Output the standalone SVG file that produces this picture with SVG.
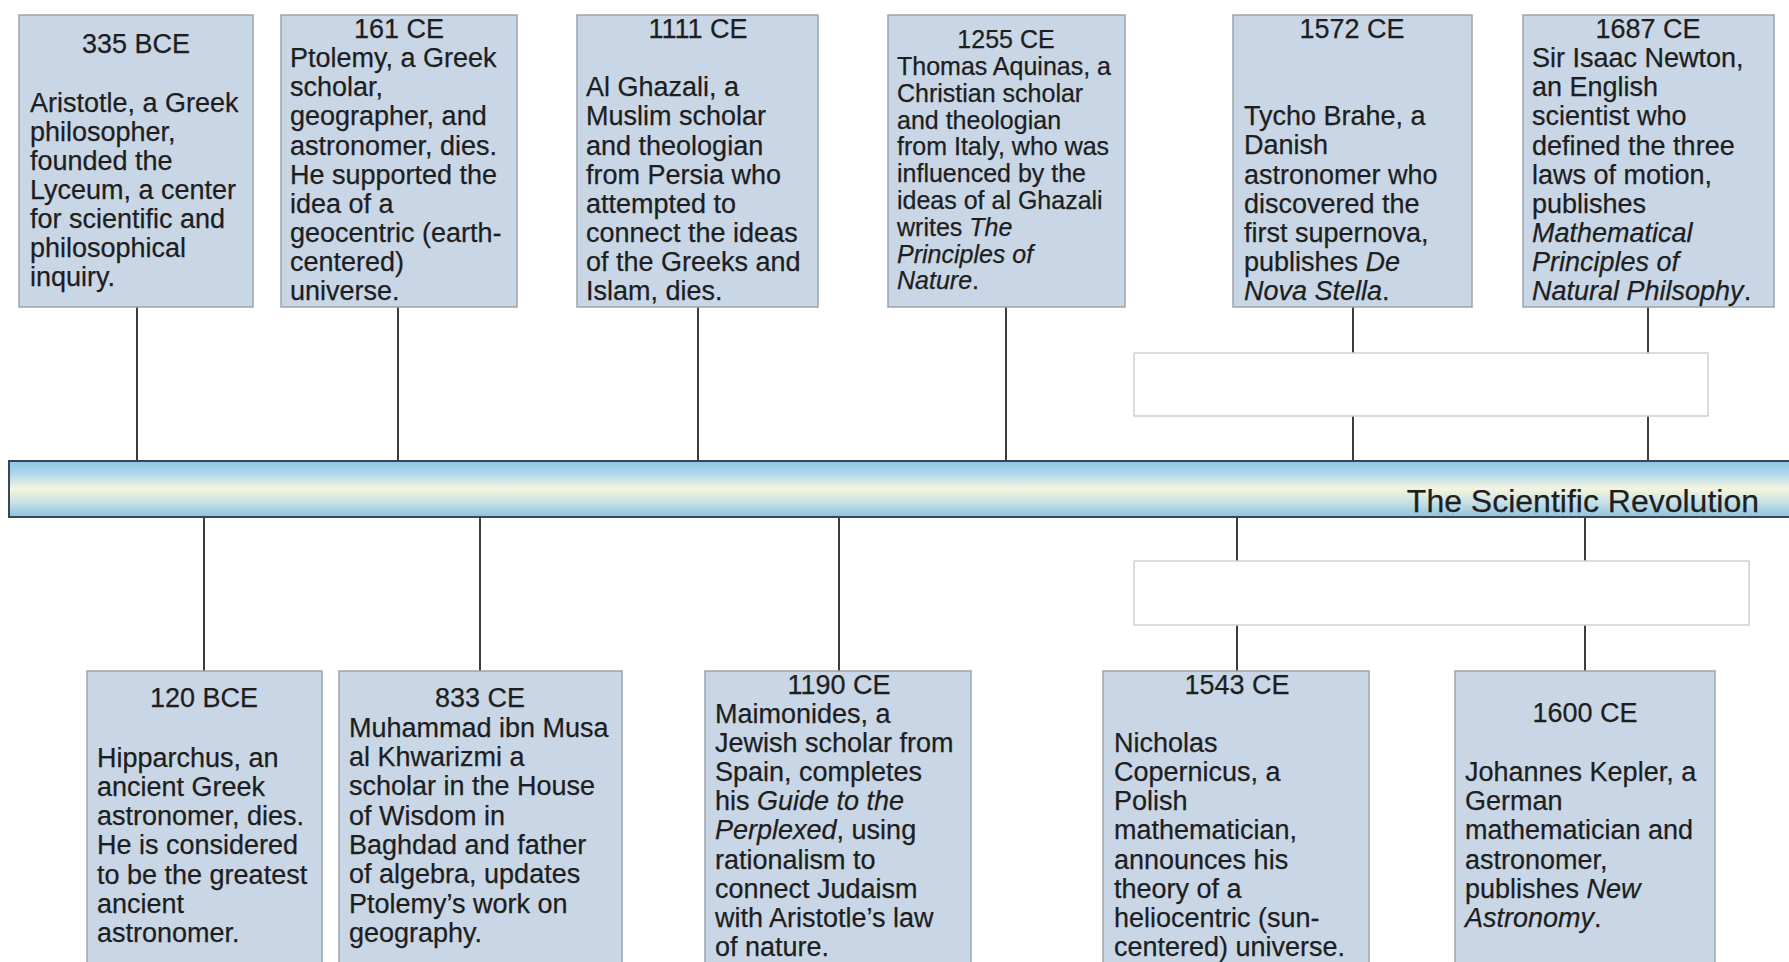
<svg xmlns="http://www.w3.org/2000/svg" width="1789" height="962" viewBox="0 0 1789 962">
<defs>
<linearGradient id="band" x1="0" y1="0" x2="0" y2="1">
<stop offset="0" stop-color="#8fc6e2"/>
<stop offset="0.2" stop-color="#a9d5ea"/>
<stop offset="0.5" stop-color="#f7f4de"/>
<stop offset="0.75" stop-color="#c4e0e6"/>
<stop offset="1" stop-color="#8cc3e0"/>
</linearGradient>
<style>
.box{fill:#c8d6e6;stroke:#9ba4ae;stroke-width:1.5}
.wbox{fill:#ffffff;stroke:#cfcfcf;stroke-width:1.5}
.t{font-family:"Liberation Sans",Arial,sans-serif;font-size:27px;fill:#1e1e1e;stroke:#1e1e1e;stroke-width:0.25}
.s{font-size:25px}
.c{text-anchor:middle}
.i{font-style:italic}
.conn line{stroke:#3d3d3d;stroke-width:2}
</style>
</defs>
<rect width="1789" height="962" fill="#ffffff"/>

<g id="connectors" class="conn">
<line x1="137" y1="307" x2="137" y2="462"/>
<line x1="398" y1="307" x2="398" y2="462"/>
<line x1="698" y1="307" x2="698" y2="462"/>
<line x1="1006" y1="307" x2="1006" y2="462"/>
<line x1="1353" y1="307" x2="1353" y2="353"/>
<line x1="1353" y1="416" x2="1353" y2="462"/>
<line x1="1648" y1="307" x2="1648" y2="353"/>
<line x1="1648" y1="416" x2="1648" y2="462"/>
<line x1="204" y1="517" x2="204" y2="671"/>
<line x1="480" y1="517" x2="480" y2="671"/>
<line x1="839" y1="517" x2="839" y2="671"/>
<line x1="1237" y1="517" x2="1237" y2="561"/>
<line x1="1237" y1="625" x2="1237" y2="671"/>
<line x1="1585" y1="517" x2="1585" y2="561"/>
<line x1="1585" y1="625" x2="1585" y2="671"/>
</g>

<g id="timeline">
<rect x="9" y="461" width="1790" height="56" fill="url(#band)" stroke="#3a4654" stroke-width="2"/>
<text class="t" x="1759" y="512" style="font-size:32px;text-anchor:end">The Scientific Revolution</text>
</g>

<g id="bracket-top"><rect class="wbox" x="1134" y="353" width="574" height="63"/></g>
<g id="bracket-bottom"><rect class="wbox" x="1134" y="561" width="615" height="64"/></g>

<g id="n335bce">
<rect class="box" x="19" y="15" width="234" height="292"/>
<text class="t c" x="136" y="53">335 BCE</text>
<text class="t" x="30"><tspan x="30" y="112">Aristotle, a Greek</tspan><tspan x="30" y="141">philosopher,</tspan><tspan x="30" y="170">founded the</tspan><tspan x="30" y="199">Lyceum, a center</tspan><tspan x="30" y="228">for scientific and</tspan><tspan x="30" y="257">philosophical</tspan><tspan x="30" y="286">inquiry.</tspan></text>
</g>

<g id="n161ce">
<rect class="box" x="281" y="15" width="236" height="292"/>
<text class="t c" x="399" y="38">161 CE</text>
<text class="t"><tspan x="290" y="67">Ptolemy, a Greek</tspan><tspan x="290" y="96">scholar,</tspan><tspan x="290" y="125">geographer, and</tspan><tspan x="290" y="155">astronomer, dies.</tspan><tspan x="290" y="184">He supported the</tspan><tspan x="290" y="213">idea of a</tspan><tspan x="290" y="242">geocentric (earth-</tspan><tspan x="290" y="271">centered)</tspan><tspan x="290" y="300">universe.</tspan></text>
</g>

<g id="n1111ce">
<rect class="box" x="577" y="15" width="241" height="292"/>
<text class="t c" x="698" y="38">1111 CE</text>
<text class="t"><tspan x="586" y="96">Al Ghazali, a</tspan><tspan x="586" y="125">Muslim scholar</tspan><tspan x="586" y="155">and theologian</tspan><tspan x="586" y="184">from Persia who</tspan><tspan x="586" y="213">attempted to</tspan><tspan x="586" y="242">connect the ideas</tspan><tspan x="586" y="271">of the Greeks and</tspan><tspan x="586" y="300">Islam, dies.</tspan></text>
</g>

<g id="n1255ce">
<rect class="box" x="888" y="15" width="237" height="292"/>
<text class="t s c" x="1006" y="48">1255 CE</text>
<text class="t s"><tspan x="897" y="75">Thomas Aquinas, a</tspan><tspan x="897" y="102">Christian scholar</tspan><tspan x="897" y="129">and theologian</tspan><tspan x="897" y="155">from Italy, who was</tspan><tspan x="897" y="182">influenced by the</tspan><tspan x="897" y="209">ideas of al Ghazali</tspan><tspan x="897" y="236">writes <tspan class="i">The</tspan></tspan><tspan x="897" y="263" class="i">Principles of</tspan><tspan x="897" y="289"><tspan class="i">Nature</tspan>.</tspan></text>
</g>

<g id="n1572ce">
<rect class="box" x="1233" y="15" width="239" height="292"/>
<text class="t c" x="1352" y="38">1572 CE</text>
<text class="t"><tspan x="1244" y="125">Tycho Brahe, a</tspan><tspan x="1244" y="154">Danish</tspan><tspan x="1244" y="184">astronomer who</tspan><tspan x="1244" y="213">discovered the</tspan><tspan x="1244" y="242">first supernova,</tspan><tspan x="1244" y="271">publishes <tspan class="i">De</tspan></tspan><tspan x="1244" y="300"><tspan class="i">Nova Stella</tspan>.</tspan></text>
</g>

<g id="n1687ce">
<rect class="box" x="1523" y="15" width="251" height="292"/>
<text class="t c" x="1648" y="38">1687 CE</text>
<text class="t"><tspan x="1532" y="67">Sir Isaac Newton,</tspan><tspan x="1532" y="96">an English</tspan><tspan x="1532" y="125">scientist who</tspan><tspan x="1532" y="155">defined the three</tspan><tspan x="1532" y="184">laws of motion,</tspan><tspan x="1532" y="213">publishes</tspan><tspan x="1532" y="242" class="i">Mathematical</tspan><tspan x="1532" y="271" class="i">Principles of</tspan><tspan x="1532" y="300"><tspan class="i">Natural Philsophy</tspan>.</tspan></text>
</g>

<g id="n120bce">
<rect class="box" x="87" y="671" width="235" height="300"/>
<text class="t c" x="204" y="707">120 BCE</text>
<text class="t"><tspan x="97" y="767">Hipparchus, an</tspan><tspan x="97" y="796">ancient Greek</tspan><tspan x="97" y="825">astronomer, dies.</tspan><tspan x="97" y="854">He is considered</tspan><tspan x="97" y="884">to be the greatest</tspan><tspan x="97" y="913">ancient</tspan><tspan x="97" y="942">astronomer.</tspan></text>
</g>

<g id="n833ce">
<rect class="box" x="339" y="671" width="283" height="300"/>
<text class="t c" x="480" y="707">833 CE</text>
<text class="t"><tspan x="349" y="737">Muhammad ibn Musa</tspan><tspan x="349" y="766">al Khwarizmi a</tspan><tspan x="349" y="795">scholar in the House</tspan><tspan x="349" y="825">of Wisdom in</tspan><tspan x="349" y="854">Baghdad and father</tspan><tspan x="349" y="883">of algebra, updates</tspan><tspan x="349" y="913">Ptolemy’s work on</tspan><tspan x="349" y="942">geography.</tspan></text>
</g>

<g id="n1190ce">
<rect class="box" x="705" y="671" width="266" height="300"/>
<text class="t c" x="839" y="694">1190 CE</text>
<text class="t"><tspan x="715" y="723">Maimonides, a</tspan><tspan x="715" y="752">Jewish scholar from</tspan><tspan x="715" y="781">Spain, completes</tspan><tspan x="715" y="810">his <tspan class="i">Guide to the</tspan></tspan><tspan x="715" y="839"><tspan class="i">Perplexed</tspan>, using</tspan><tspan x="715" y="869">rationalism to</tspan><tspan x="715" y="898">connect Judaism</tspan><tspan x="715" y="927">with Aristotle’s law</tspan><tspan x="715" y="956">of nature.</tspan></text>
</g>

<g id="n1543ce">
<rect class="box" x="1103" y="671" width="266" height="300"/>
<text class="t c" x="1237" y="694">1543 CE</text>
<text class="t"><tspan x="1114" y="752">Nicholas</tspan><tspan x="1114" y="781">Copernicus, a</tspan><tspan x="1114" y="810">Polish</tspan><tspan x="1114" y="839">mathematician,</tspan><tspan x="1114" y="869">announces his</tspan><tspan x="1114" y="898">theory of a</tspan><tspan x="1114" y="927">heliocentric (sun-</tspan><tspan x="1114" y="956">centered) universe.</tspan></text>
</g>

<g id="n1600ce">
<rect class="box" x="1455" y="671" width="260" height="300"/>
<text class="t c" x="1585" y="722">1600 CE</text>
<text class="t"><tspan x="1465" y="781">Johannes Kepler, a</tspan><tspan x="1465" y="810">German</tspan><tspan x="1465" y="839">mathematician and</tspan><tspan x="1465" y="869">astronomer,</tspan><tspan x="1465" y="898">publishes <tspan class="i">New</tspan></tspan><tspan x="1465" y="927"><tspan class="i">Astronomy</tspan>.</tspan></text>
</g>
</svg>
